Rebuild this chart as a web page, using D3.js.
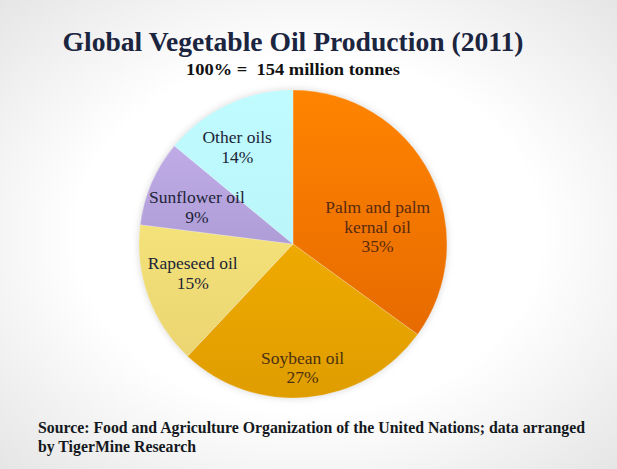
<!DOCTYPE html>
<html>
<head>
<meta charset="utf-8">
<script src="https://cdn.jsdelivr.net/npm/d3@7"></script>
<style>
  html, body { margin: 0; padding: 0; background: #fff; }
  svg { display: block; }
</style>
</head>
<body>
<div id="chart"></div>
<script>
// data
const oils = ["Palm and palm kernal oil", "Soybean oil", "Rapeseed oil", "Sunflower oil", "Other oils"];
const shares = [35, 27, 15, 9, 14];
const labelLines = [
  ["Palm and palm", "kernal oil"],
  ["Soybean oil"],
  ["Rapeseed oil"],
  ["Sunflower oil"],
  ["Other oils"]
];
const topColors = ["#ff8400", "#ffb600", "#fdef80", "#c9b5f0", "#bffbff"];
const bottomColors = ["#e06400", "#df9d00", "#e8d170", "#9585bf", "#b5f0f4"];
const labelColors = ["#5a2a10", "#4a3010", "#1c2436", "#1c2436", "#1c2436"];

const width = 617;
const height = 469;
const cx = 293, cy = 244, radius = 154;

// where each label sits: fraction along the slice angle, fraction of radius
const labelAngleFrac = [0.627, 0.51, 0.557, 0.41, 0.4];
const labelRadiusFrac = [0.56, 0.81, 0.68, 0.666, 0.72];

const svg = d3.select("#chart")
  .append("svg")
  .attr("width", width)
  .attr("height", height);

const defs = svg.append("defs");

// soft grey vignette behind everything
const bg = defs.append("radialGradient")
  .attr("id", "bg")
  .attr("cx", "50%").attr("cy", "50%").attr("r", "75%");
bg.append("stop").attr("offset", "50%").attr("stop-color", "#ffffff");
bg.append("stop").attr("offset", "100%").attr("stop-color", "#e2e2e2");
svg.append("rect").attr("width", width).attr("height", height).attr("fill", "url(#bg)");

const shadow = defs.append("filter").attr("id", "shadow")
  .attr("x", "-20%").attr("y", "-20%").attr("width", "140%").attr("height", "140%");
shadow.append("feGaussianBlur").attr("stdDeviation", 3);

// vertical gradient per slice, spanning the whole pie
oils.forEach((_, i) => {
  const g = defs.append("linearGradient")
    .attr("id", "grad" + i)
    .attr("gradientUnits", "userSpaceOnUse")
    .attr("x1", 0).attr("y1", -radius)
    .attr("x2", 0).attr("y2", radius);
  g.append("stop").attr("offset", "0%").attr("stop-color", topColors[i]);
  g.append("stop").attr("offset", "100%").attr("stop-color", bottomColors[i]);
});

const pie = d3.pie().sort(null).value((d) => d)(shares);
const arc = d3.arc().innerRadius(0).outerRadius(radius);

const g = svg.append("g").attr("transform", `translate(${cx}, ${cy})`);

g.append("circle")
  .attr("r", radius + 1)
  .attr("fill", "#c8c8c8")
  .attr("opacity", 0.6)
  .attr("filter", "url(#shadow)");

g.selectAll("path.slice")
  .data(pie)
  .enter()
  .append("path")
  .attr("class", "slice")
  .attr("d", arc)
  .attr("fill", (d, i) => `url(#grad${i})`)
  .attr("stroke", "rgba(255,255,255,0.35)")
  .attr("stroke-width", 0.6);

const lineH = 19.5;
const labels = g.selectAll("text.lab")
  .data(pie)
  .enter()
  .append("text")
  .attr("class", "lab")
  .attr("text-anchor", "middle")
  .attr("font-family", "'Liberation Serif', 'DejaVu Serif', serif")
  .attr("font-size", 17.5)
  .attr("fill", (d, i) => labelColors[i])
  .attr("transform", (d, i) => {
    const a = d.startAngle + labelAngleFrac[i] * (d.endAngle - d.startAngle);
    const r = radius * labelRadiusFrac[i];
    const x = r * Math.sin(a);
    const y = -r * Math.cos(a);
    const n = labelLines[i].length + 1;
    return `translate(${x}, ${y - ((n - 1) * lineH) / 2 + 5})`;
  });

labels.each(function (d, i) {
  const t = d3.select(this);
  labelLines[i].concat([d.data + "%"]).forEach((s, k) => {
    t.append("tspan").attr("x", 0).attr("y", k * lineH).text(s);
  });
});

// titles
const serif = "'Liberation Serif', 'DejaVu Serif', serif";
svg.append("text")
  .attr("x", 293).attr("y", 51)
  .attr("text-anchor", "middle")
  .attr("font-family", serif)
  .attr("font-weight", "bold")
  .attr("font-size", 27)
  .attr("fill", "#1b2540")
  .attr("textLength", 461)
  .attr("lengthAdjust", "spacingAndGlyphs")
  .text("Global Vegetable Oil Production (2011)");

svg.append("text")
  .attr("x", 293).attr("y", 75)
  .attr("text-anchor", "middle")
  .attr("font-family", serif)
  .attr("font-weight", "bold")
  .attr("font-size", 17)
  .attr("fill", "#111111")
  .attr("textLength", 214)
  .attr("lengthAdjust", "spacingAndGlyphs")
  .style("white-space", "pre")
  .text("100% =  154 million tonnes");

svg.append("text")
  .attr("x", 38).attr("y", 433)
  .attr("font-family", serif)
  .attr("font-weight", "bold")
  .attr("font-size", 16)
  .attr("fill", "#141820")
  .attr("textLength", 547)
  .attr("lengthAdjust", "spacingAndGlyphs")
  .text("Source: Food and Agriculture Organization of the United Nations; data arranged");

svg.append("text")
  .attr("x", 38).attr("y", 452)
  .attr("font-family", serif)
  .attr("font-weight", "bold")
  .attr("font-size", 16)
  .attr("fill", "#141820")
  .attr("textLength", 158)
  .attr("lengthAdjust", "spacingAndGlyphs")
  .text("by TigerMine Research");
</script>
</body>
</html>
